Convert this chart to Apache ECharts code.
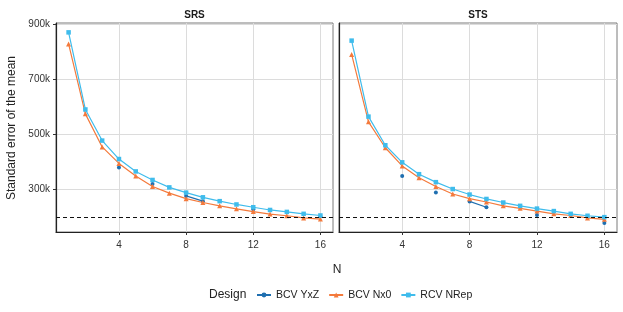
<!DOCTYPE html>
<html>
<head>
<meta charset="utf-8">
<script src="https://cdn.jsdelivr.net/npm/echarts@6/dist/echarts.min.js"></script>
<style>html,body{margin:0;padding:0;background:#fff}#c{width:623px;height:312px}</style>
</head>
<body>
<div id="c"></div>
<script>
const N = [1,2,3,4,5,6,7,8,9,10,11,12,13,14,15,16];
const panels = ['SRS','STS'];
const designs = ['BCV YxZ','BCV Nx0','RCV NRep'];
const xTicks = [4,8,12,16];
const yTicks = [300000,500000,700000,900000];
const refLine = 200000;
// values in thousands
const yxzSRS  = [null,null,null,380,null,320,null,277,258,null,null,229,null,null,null,203];
const nx0SRS  = [829,575,455,395,349,311,287,267,253,241,230,220,211,205,197,193];
const nrepSRS = [871,591,478,411,366,335,308,289,272,258,246,236,226,219,212,206];
const yxzSTS  = [null,null,null,349,null,289,null,257,236,null,null,208,null,null,null,179];
const nx0STS  = [791,546,452,386,343,311,284,267,255,241,232,222,212,206,197,192];
const nrepSTS = [841,565,461,399,356,327,302,282,266,253,241,231,222,212,205,200];

const colors = {'BCV YxZ':'#1f6fb0','BCV Nx0':'#f47a3c','RCV NRep':'#3fbcec'};
const symbols = {'BCV YxZ':'circle','BCV Nx0':'triangle','RCV NRep':'rect'};
const sizes = {'BCV YxZ':4,'BCV Nx0':5,'RCV NRep':4.5};
const dataSets = [
  {'BCV YxZ':yxzSRS,'BCV Nx0':nx0SRS,'RCV NRep':nrepSRS},
  {'BCV YxZ':yxzSTS,'BCV Nx0':nx0STS,'RCV NRep':nrepSTS}
];

const grids = [
  {left:56, top:23, width:277, height:209, show:true, borderColor:'#7a7a7a', borderWidth:1},
  {left:339, top:23, width:278, height:209, show:true, borderColor:'#7a7a7a', borderWidth:1}
];
const font = 'Liberation Sans, Arial, sans-serif';
const xAxes = grids.map((g,i)=>({
  type:'value', gridIndex:i, min:0.25, max:16.75,
  axisLine:{show:true, onZero:false, lineStyle:{color:'#222', width:1.2}},
  axisTick:{show:true, length:3, customValues:xTicks, lineStyle:{color:'#333'}},
  axisLabel:{customValues:xTicks, margin:8, fontSize:10, color:'#333', fontFamily:font},
  splitLine:{show:true, lineStyle:{color:'#dcdcdc', width:1}}
}));
const yAxes = grids.map((g,i)=>({
  type:'value', gridIndex:i, min:146000, max:905000,
  axisLine:{show:true, onZero:false, lineStyle:{color:'#222', width:1.2}},
  axisTick:{show:i===0, length:3, customValues:yTicks, lineStyle:{color:'#333'}},
  axisLabel:{show:i===0, customValues:yTicks, margin:6, fontSize:10, color:'#333', fontFamily:font,
    formatter:v=>(v/1000)+'k'},
  splitLine:{show:true, lineStyle:{color:'#dcdcdc', width:1}}
}));
const series = [];
dataSets.forEach((ds,pi)=>{
  designs.forEach((d,di)=>{
    const s = {
      name:d, type:'line', xAxisIndex:pi, yAxisIndex:pi,
      data:N.map((n,k)=>[n, ds[d][k]==null ? null : ds[d][k]*1000]),
      connectNulls:false,
      symbol:symbols[d], symbolSize:sizes[d], showSymbol:true,
      itemStyle:{color:colors[d]}, lineStyle:{color:colors[d], width:1.2},
      z: 2+di, animation:false
    };
    if (di===0) {
      s.markLine = {silent:true, symbol:'none', label:{show:false},
        lineStyle:{color:'#111', type:[4,3], width:1},
        data:[{yAxis:refLine}], animation:false};
    }
    series.push(s);
  });
});

const chart = echarts.init(document.getElementById('c'));
chart.setOption({
  animation:false,
  backgroundColor:'#fff',
  grid:grids, xAxis:xAxes, yAxis:yAxes, series:series,
  legend:{left:251, top:284.5, itemWidth:14, itemHeight:6, itemGap:9,
    textStyle:{fontSize:10.5, color:'#222', fontFamily:font},
    data:designs},
  graphic:[
    {type:'text', style:{text:panels[0], x:194.5, y:15, align:'center', verticalAlign:'middle', font:'bold 10px '+font, fill:'#1a1a1a'}},
    {type:'text', style:{text:panels[1], x:478, y:15, align:'center', verticalAlign:'middle', font:'bold 10px '+font, fill:'#1a1a1a'}},
    {type:'text', style:{text:'N', x:337, y:270, align:'center', verticalAlign:'middle', font:'12px '+font, fill:'#222'}},
    {type:'text', rotation:Math.PI/2, x:12, y:128, style:{text:'Standard error of the mean', x:0, y:0, align:'center', verticalAlign:'middle', font:'12px '+font, fill:'#222'}},
    {type:'text', style:{text:'Design', x:209, y:295, align:'left', verticalAlign:'middle', font:'12px '+font, fill:'#222'}}
  ]
});
</script>
</body>
</html>
